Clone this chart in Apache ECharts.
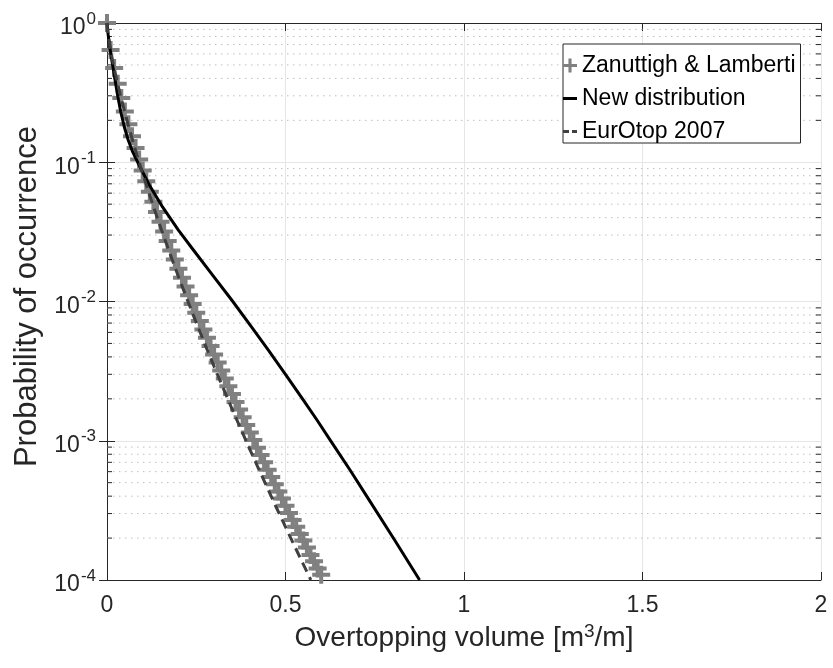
<!DOCTYPE html>
<html>
<head>
<meta charset="utf-8">
<script src="https://cdn.jsdelivr.net/npm/echarts@6/dist/echarts.min.js"></script>
<style>
html,body{margin:0;padding:0;background:#fff;}
#chart{width:833px;height:668px;}
</style>
</head>
<body>
<div id="chart"></div>
<script>
// ---- Data ----
const xTickValues = [0, 0.5, 1, 1.5, 2];
const yTickExponents = [0, -1, -2, -3, -4];
const minorMultipliers = [2, 3, 4, 5, 6, 7, 8, 9];
const decades = [1e-4, 1e-3, 1e-2, 1e-1];

// Zanuttigh & Lamberti (markers)
const zlVolume = [0,0.01,0.02,0.03,0.04,0.05,0.06,0.07,0.08,0.09,0.10,0.11,0.12,0.13,0.14,0.15,0.16,0.17,0.18,0.19,0.20,0.21,0.22,0.23,0.24,0.25,0.26,0.27,0.28,0.29,0.30,0.31,0.32,0.33,0.34,0.35,0.36,0.37,0.38,0.39,0.40,0.41,0.42,0.43,0.44,0.45,0.46,0.47,0.48,0.49,0.50,0.51,0.52,0.53,0.54,0.55,0.56,0.57,0.58,0.59,0.60];
const zlLog10P = [0,-0.194,-0.323,-0.436,-0.539,-0.635,-0.727,-0.814,-0.898,-0.980,-1.059,-1.136,-1.211,-1.284,-1.357,-1.427,-1.497,-1.566,-1.633,-1.699,-1.765,-1.829,-1.893,-1.956,-2.018,-2.080,-2.140,-2.201,-2.261,-2.320,-2.380,-2.438,-2.495,-2.553,-2.609,-2.665,-2.722,-2.776,-2.832,-2.887,-2.941,-2.995,-3.050,-3.102,-3.154,-3.209,-3.261,-3.312,-3.364,-3.414,-3.467,-3.519,-3.570,-3.618,-3.670,-3.717,-3.766,-3.820,-3.866,-3.917,-3.963];

// New distribution (solid black)
const nwVolume = [0,0.0034,0.0081,0.0157,0.0235,0.0305,0.0386,0.0485,0.0594,0.0720,0.0868,0.1185,0.1555,0.2000,0.2420,0.2958,0.3493,0.4011,0.4515,0.5014,0.5496,0.5882,0.6252,0.6807,0.7345,0.8056,0.8756];
const nwLog10P = [0,-0.086,-0.180,-0.302,-0.424,-0.531,-0.639,-0.747,-0.840,-0.926,-1.005,-1.163,-1.321,-1.487,-1.630,-1.810,-1.989,-2.169,-2.348,-2.528,-2.707,-2.851,-2.995,-3.210,-3.426,-3.713,-4.0];

// EurOtop 2007 (dashed)
const eoVolume = [0,0.001,0.002,0.003,0.005,0.01,0.015,0.02,0.03,0.04,0.05,0.06,0.07,0.08,0.09,0.1,0.12,0.15,0.175,0.2,0.225,0.25,0.275,0.3,0.325,0.35,0.375,0.4,0.425,0.45,0.475,0.5,0.525,0.55,0.571];
const eoLog10P = [0,-0.034,-0.058,-0.078,-0.114,-0.192,-0.261,-0.324,-0.439,-0.544,-0.643,-0.738,-0.828,-0.915,-1.0,-1.082,-1.241,-1.467,-1.647,-1.821,-1.988,-2.152,-2.311,-2.467,-2.619,-2.770,-2.916,-3.062,-3.203,-3.343,-3.483,-3.618,-3.754,-3.888,-4.0];

const names = ['Zanuttigh & Lamberti', 'New distribution', 'EurOtop 2007'];

// ---- Build ----
const toPairs = (xs, ls) => xs.map((x, i) => [x, Math.pow(10, ls[i])]);
const minorValues = [];
decades.forEach(d => minorMultipliers.forEach(m => minorValues.push(m * d)));

const FONT = '"Liberation Sans", Arial, Helvetica, sans-serif';
const AX = '#262626';
const plusPath = 'path://M7,0h4v7h7v4h-7v7h-4v-7h-7v-4h7z';
const plusIcon = 'path://M0,0M18,18M7,0h4v7h7v4h-7v7h-4v-7h-7v-4h7z';
const solidIcon = 'path://M0,0M14,14M0,5.5h14v3h-14z';
const dashIcon = 'path://M0,0M14,14M0,5.5h6v3h-6zM9,5.5h5v3h-5z';

const supLabel = v => {
  const e = Math.round(Math.log10(v));
  if (yTickExponents.indexOf(e) < 0) return '';
  return '{b|10}{s|' + e + '}';
};

const chart = echarts.init(document.getElementById('chart'), null, {renderer: 'canvas'});
chart.setOption({
  animation: false,
  backgroundColor: '#ffffff',
  grid: {left: 107, right: 12, top: 23, bottom: 88, containLabel: false},
  legend: {
    data: [
      {name: names[0], icon: plusIcon, itemStyle: {color: '#808080'}},
      {name: names[1], icon: solidIcon, itemStyle: {color: '#000000'}},
      {name: names[2], icon: dashIcon, itemStyle: {color: '#404040'}}
    ],
    orient: 'vertical',
    left: 563, top: 44,
    backgroundColor: '#ffffff',
    borderColor: AX, borderWidth: 1,
    padding: [10, 5, 0, 0],
    itemWidth: 14, itemHeight: 14, itemGap: 10,
    textStyle: {fontSize: 23, color: '#000', fontFamily: FONT},
    selectedMode: false
  },
  xAxis: [{
    type: 'value', min: 0, max: 2, interval: 0.5, position: 'bottom',
    name: '{a|Overtopping volume [m}{s|3}{a|/m]}',
    nameLocation: 'middle', nameGap: 42,
    nameTextStyle: {rich: {
      a: {fontSize: 28, color: AX, fontFamily: FONT},
      s: {fontSize: 19, color: AX, fontFamily: FONT, padding: [0, 0, 14, 0]}
    }},
    axisLine: {show: true, lineStyle: {color: AX, width: 1}},
    axisTick: {show: true, inside: true, length: 8, lineStyle: {color: AX}},
    axisLabel: {fontSize: 23, color: AX, fontFamily: FONT, margin: 14,
      formatter: v => String(v)},
    splitLine: {show: true, lineStyle: {color: '#e6e6e6', width: 1}}
  }, {
    type: 'value', min: 0, max: 2, interval: 0.5, position: 'top',
    axisLine: {show: true, lineStyle: {color: AX, width: 1}},
    axisTick: {show: true, inside: true, length: 8, lineStyle: {color: AX}},
    axisLabel: {show: false}, splitLine: {show: false}
  }],
  yAxis: [{
    type: 'log', logBase: 10, min: 1e-4, max: 1, position: 'left',
    name: 'Probability of occurrence',
    nameLocation: 'middle', nameGap: 60,
    nameTextStyle: {fontSize: 31, color: AX, fontFamily: FONT, padding: [0, 0, 0, 10]},
    axisLine: {show: true, lineStyle: {color: AX, width: 1}},
    axisTick: {show: true, inside: true, length: 8, lineStyle: {color: AX}},
    axisLabel: {color: AX, fontFamily: FONT, margin: 11, formatter: supLabel,
      rich: {
        b: {fontSize: 23, color: AX, fontFamily: FONT, padding: [10, 0, 0, 0]},
        s: {fontSize: 17, color: AX, fontFamily: FONT, padding: [0, 0, 8, 1]}
      }},
    splitLine: {show: true, lineStyle: {color: '#e6e6e6', width: 1}}
  }, {
    type: 'log', logBase: 10, min: 1e-4, max: 1, position: 'right',
    axisLine: {show: true, lineStyle: {color: AX, width: 1}},
    axisTick: {show: true, inside: true, length: 8, lineStyle: {color: AX}},
    axisLabel: {show: false}, splitLine: {show: false}
  }],
  series: [
    {
      type: 'custom', name: 'minor', silent: true, z: 1,
      xAxisIndex: 0, yAxisIndex: 0,
      data: minorValues.map(v => [0, v]),
      renderItem: (params, api) => {
        const v = api.value(1);
        const p0 = api.coord([0, v]);
        const p1 = api.coord([2, v]);
        return {type: 'group', children: [
          {type: 'line', shape: {x1: p0[0], y1: p0[1], x2: p1[0], y2: p1[1]},
           style: {stroke: '#bdbdbd', lineWidth: 1, lineDash: [1.5, 4.5]}},
          {type: 'line', shape: {x1: p0[0], y1: p0[1], x2: p0[0] + 5, y2: p0[1]},
           style: {stroke: AX, lineWidth: 1}},
          {type: 'line', shape: {x1: p1[0] - 5, y1: p1[1], x2: p1[0], y2: p1[1]},
           style: {stroke: AX, lineWidth: 1}}
        ]};
      }
    },
    {
      type: 'scatter', name: names[0], z: 3,
      data: toPairs(zlVolume, zlLog10P),
      symbol: plusPath, symbolSize: 18, clip: false,
      itemStyle: {color: '#808080', opacity: 1}
    },
    {
      type: 'line', name: names[1], z: 4,
      data: toPairs(nwVolume, nwLog10P),
      symbol: 'none', smooth: false,
      lineStyle: {color: '#000000', width: 3, join: 'round'},
      itemStyle: {color: '#000000'}
    },
    {
      type: 'line', name: names[2], z: 5,
      data: toPairs(eoVolume, eoLog10P),
      symbol: 'none', smooth: false,
      lineStyle: {color: '#404040', width: 3, type: [10, 6]},
      itemStyle: {color: '#404040'}
    }
  ]
});
</script>
</body>
</html>
